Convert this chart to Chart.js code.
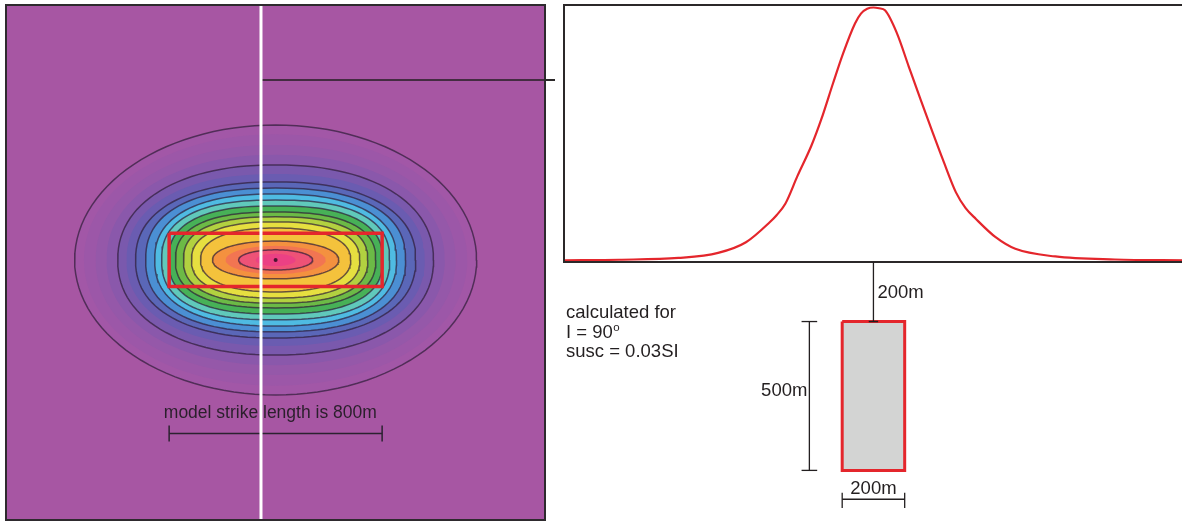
<!DOCTYPE html>
<html>
<head>
<meta charset="utf-8">
<script src="https://cdn.jsdelivr.net/npm/chart.js@4.4.1/dist/chart.umd.min.js"></script>
<style>
  html, body { margin: 0; padding: 0; background: #fff; width: 1182px; height: 521px; overflow: hidden; }
  .panel { position: absolute; }
  #map-box { left: 5px; top: 4px; width: 537px; height: 513px; border: 2px solid #2e2a2e; background: #a756a3; }
  #profile-box { left: 563px; top: 4px; width: 625px; height: 255px; border: 2px solid #2b2829; border-right: none; }
  #section-box { left: 565px; top: 262px; width: 620px; height: 259px; }
  #leader { left: 546px; top: 79px; width: 9px; height: 1.5px; background: #2b2829; }
  canvas { display: block; }
</style>
</head>
<body>
<div class="panel" id="map-box"><canvas id="map" width="537" height="513"></canvas></div>
<div class="panel" id="leader"></div>
<div class="panel" id="profile-box"><canvas id="profile" width="620" height="255"></canvas></div>
<div class="panel" id="section-box"><canvas id="section" width="620" height="259"></canvas></div>
<script>
// ---- map (plan view), metres ----
const contourHalfLength = [755, 720, 676, 635, 593, 560, 526, 488, 454, 428, 402, 376, 346, 316, 282, 237, 188, 139, 75];
const contourHalfWidth = [507, 472, 432, 395, 357, 323, 293, 270, 248, 225, 203, 180, 162, 143, 120, 71, 53, 38, 23];
const contourShape = [2.0, 2.05, 2.1, 2.15, 2.2, 2.25, 2.3, 2.4, 2.4, 2.5, 2.5, 2.5, 2.5, 2.4, 2.3, 2.1, 2.0, 2.0, 2.0];
const contourDrawn = [1, 0, 0, 0, 1, 0, 1, 1, 1, 1, 1, 1, 1, 1, 1, 1, 0, 1, 0];
const bandColours = [
  '#a257a7', '#9c57a8', '#9558a9', '#8a58ab', '#7a59ad', '#6a5cb1', '#5a67b8', '#4b8fd3', '#4fbbe2',
  '#60c9bb', '#47b157', '#6cba46', '#b2d140', '#e6df40', '#f4c23c', '#f4913f', '#f27552', '#ee5277', '#eb4184',
];
const bodyHalfLength = 400;   // model strike length 800 m
const bodyHalfWidth = 100;    // 200 m wide
const profileLineX = -55;     // white profile line on the map
const leaderY = 676;
const scaleBarY = -652;
const strikeLabel = 'model strike length is 800m';

// ---- profile ----
const profileX = [-987, -814, -624, -497, -408, -332, -310, -282, -243, -199, -167, -129, -97, -59, -40, -20, 0,
  18, 37, 75, 113, 151, 190, 222, 264, 295, 328, 391, 454, 582, 773, 997];
const profileAmp = [0.2, 0.4, 1.1, 3.1, 7.3, 15.2, 18.0, 22.5, 33.5, 45.3, 55.8, 70.2, 81.9, 93.7, 97.6, 99.5, 100,
  99.7, 98.9, 89.9, 76.7, 63.6, 50.5, 40.0, 27.0, 20.8, 16.5, 9.3, 4.7, 1.7, 0.5, 0.2];

// ---- section, metres ----
const bodyTop = 200;
const bodyBottom = 700;
const dimLineX = -205;
const dimBarDepth = 797;
const noteLines = ['calculated for', 'I = 90', 'susc = 0.03SI'];
const noteDepths = [188, 254, 319];

const INK = '#231f20';
const RED = '#e4262c';
const FONT = '"Liberation Sans", Arial, sans-serif';

function ring(a, b, n) {
  const pts = [];
  for (let k = 0; k <= 120; k++) {
    const t = (k / 120) * Math.PI * 2;
    const c = Math.cos(t);
    const s = Math.sin(t);
    pts.push({
      x: a * Math.sign(c) * Math.pow(Math.abs(c), 2 / n),
      y: b * Math.sign(s) * Math.pow(Math.abs(s), 2 / n),
    });
  }
  return pts;
}

function seg(x1, y1, x2, y2) {
  return [{ x: x1, y: y1 }, { x: x2, y: y2 }];
}

function lineSet(data, color, width, order) {
  return {
    data, borderColor: color, borderWidth: width, pointRadius: 0,
    fill: false, order, borderCapStyle: 'butt', clip: false,
  };
}

function label(ctx, str, x, y, align, size, color) {
  ctx.save();
  ctx.font = size + 'px ' + FONT;
  ctx.textAlign = align;
  ctx.textBaseline = 'alphabetic';
  ctx.fillStyle = color || INK;
  ctx.fillText(str, x, y);
  const w = ctx.measureText(str).width;
  ctx.restore();
  return w;
}

const noTips = {
  legend: { display: false },
  tooltip: { enabled: false },
};

// Map
const mapSets = [];
contourHalfLength.forEach((a, i) => {
  mapSets.push({
    data: ring(a, contourHalfWidth[i], contourShape[i]),
    borderColor: contourDrawn[i] ? 'rgba(46, 28, 56, 0.7)' : 'rgba(0,0,0,0)',
    borderWidth: contourDrawn[i] ? 1.5 : 0,
    backgroundColor: bandColours[i],
    fill: 'shape',
    pointRadius: 0,
    order: 100 - i,
  });
});
mapSets.push(lineSet([
  { x: -bodyHalfLength, y: bodyHalfWidth }, { x: bodyHalfLength, y: bodyHalfWidth },
  { x: bodyHalfLength, y: -bodyHalfWidth }, { x: -bodyHalfLength, y: -bodyHalfWidth },
  { x: -bodyHalfLength, y: bodyHalfWidth },
], RED, 3.5, 5));
mapSets[mapSets.length - 1].borderJoinStyle = 'miter';
mapSets.push({
  data: [{ x: 0, y: 0 }], showLine: false, pointRadius: 2, pointBorderWidth: 0,
  pointBackgroundColor: '#4a1530', order: 4,
});
mapSets.push(lineSet(seg(-bodyHalfLength, scaleBarY, bodyHalfLength, scaleBarY), '#2b2230', 1.5, 3));
mapSets.push(lineSet(seg(-bodyHalfLength, scaleBarY - 30, -bodyHalfLength, scaleBarY + 30), '#2b2230', 1.5, 3));
mapSets.push(lineSet(seg(bodyHalfLength, scaleBarY - 30, bodyHalfLength, scaleBarY + 30), '#2b2230', 1.5, 3));
mapSets.push(lineSet(seg(profileLineX, leaderY, 1100, leaderY), INK, 1.5, 2));
mapSets.push(lineSet(seg(profileLineX, -1100, profileLineX, 1100), '#ffffff', 3, 0));

new Chart(document.getElementById('map'), {
  type: 'line',
  data: { datasets: mapSets },
  options: {
    responsive: false,
    animation: false,
    layout: { padding: 0, autoPadding: false },
    plugins: noTips,
    scales: {
      x: { type: 'linear', min: -1009, max: 1008, display: false },
      y: { type: 'linear', min: -973, max: 954, display: false },
    },
  },
  plugins: [{
    id: 'strikeLabel',
    beforeDatasetsDraw(c) {
      const { x, y } = c.scales;
      label(c.ctx, strikeLabel, x.getPixelForValue(-20), y.getPixelForValue(-593), 'center', 17.5, '#2a1f2b');
    },
  }],
});

// Profile
new Chart(document.getElementById('profile'), {
  type: 'line',
  data: {
    datasets: [{
      data: profileX.map((x, i) => ({ x, y: profileAmp[i] })),
      borderColor: RED,
      borderWidth: 2.2,
      pointRadius: 0,
      cubicInterpolationMode: 'monotone',
      clip: false,
    }],
  },
  options: {
    responsive: false,
    animation: false,
    layout: { padding: 0, autoPadding: false },
    plugins: noTips,
    scales: {
      x: { type: 'linear', min: -987, max: 997, display: false },
      y: { type: 'linear', min: -0.1, max: 100.6, display: false },
    },
  },
});

// Section
const sectionSets = [
  {
    data: [
      { x: -bodyHalfWidth, y: bodyTop }, { x: bodyHalfWidth, y: bodyTop },
      { x: bodyHalfWidth, y: bodyBottom }, { x: -bodyHalfWidth, y: bodyBottom },
      { x: -bodyHalfWidth, y: bodyTop },
    ],
    borderColor: RED, borderWidth: 3, borderJoinStyle: 'miter',
    backgroundColor: '#d3d4d3', fill: 'shape', pointRadius: 0, order: 5,
  },
  lineSet(seg(0, 0, 0, bodyTop), INK, 1.3, 1),
  lineSet(seg(-15, bodyTop, 15, bodyTop), INK, 1.5, 1),
  lineSet(seg(dimLineX, bodyTop, dimLineX, bodyBottom), INK, 1.3, 1),
  lineSet(seg(dimLineX - 25, bodyTop, dimLineX + 25, bodyTop), INK, 1.3, 1),
  lineSet(seg(dimLineX - 25, bodyBottom, dimLineX + 25, bodyBottom), INK, 1.3, 1),
  lineSet(seg(-bodyHalfWidth, dimBarDepth, bodyHalfWidth, dimBarDepth), INK, 1.3, 1),
  lineSet(seg(-bodyHalfWidth, dimBarDepth - 22, -bodyHalfWidth, dimBarDepth + 29), INK, 1.3, 1),
  lineSet(seg(bodyHalfWidth, dimBarDepth - 22, bodyHalfWidth, dimBarDepth + 29), INK, 1.3, 1),
];

new Chart(document.getElementById('section'), {
  type: 'line',
  data: { datasets: sectionSets },
  options: {
    responsive: false,
    animation: false,
    layout: { padding: 0, autoPadding: false },
    plugins: noTips,
    scales: {
      x: { type: 'linear', min: -987, max: 997, display: false },
      y: { type: 'linear', min: 0, max: 870, reverse: true, display: false },
    },
  },
  plugins: [{
    id: 'sectionLabels',
    afterDatasetsDraw(c) {
      const { ctx, chartArea } = c;
      const { x, y } = c.scales;
      label(ctx, '200m', x.getPixelForValue(0) + 4, y.getPixelForValue(121), 'left', 18.5);
      label(ctx, '500m', x.getPixelForValue(dimLineX) - 2, y.getPixelForValue(449), 'right', 18.5);
      label(ctx, '200m', x.getPixelForValue(0), y.getPixelForValue(780), 'center', 18.5);
      noteLines.forEach((t, i) => {
        const left = chartArea.left + 1;
        const base = y.getPixelForValue(noteDepths[i]);
        const w = label(ctx, t, left, base, 'left', 18.5);
        if (i === 1) label(ctx, 'o', left + w + 0.5, base - 7, 'left', 11.5);
      });
    },
  }],
});
</script>
</body>
</html>
